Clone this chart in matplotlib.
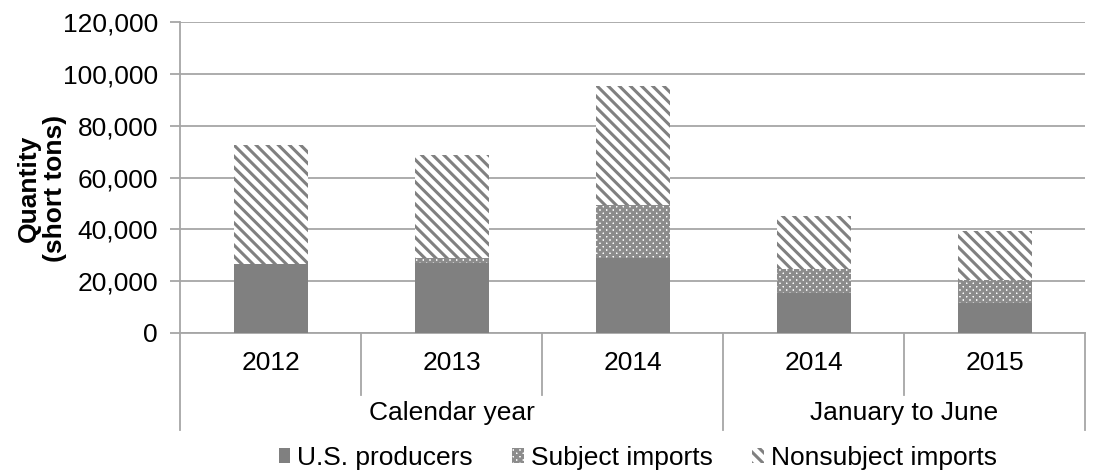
import numpy as np
import matplotlib.pyplot as plt
import matplotlib.transforms as mtransforms
from matplotlib.lines import Line2D

plt.rcParams['font.family'] = ['Liberation Sans', 'DejaVu Sans']
plt.rcParams['hatch.linewidth'] = 2.2

# data (short tons)
years = ['2012', '2013', '2014', '2014', '2015']
groups = ['Calendar year', 'January to June']
group_sizes = [3, 2]
us_producers = [26500, 27000, 29000, 15500, 11700]
subject_imports = [0, 1800, 20400, 9200, 8700]
nonsubject_imports = [46000, 39900, 46100, 20400, 19000]

grey = '#808080'
line_c = '#a6a6a6'
fs = 19
fig = plt.figure(figsize=(11.05, 4.74), dpi=100)
ax = fig.add_axes([0.163, 0.2975, 0.819, 0.656])

x = np.arange(len(years))
us = np.array(us_producers)
sub = np.array(subject_imports)
non = np.array(nonsubject_imports)
w = 0.41
ax.bar(x, us, w, color=grey, lw=0, label='U.S. producers', zorder=3)
ax.bar(x, sub, w, bottom=us, facecolor='white', edgecolor='#8c8c8c', hatch='xxxxx',
       lw=0, label='Subject imports', zorder=3)
ax.bar(x, non, w, bottom=us + sub, facecolor='white', edgecolor=grey, hatch='\\\\\\',
       lw=0, label='Nonsubject imports', zorder=3)

ax.set_xlim(-0.5, len(years) - 0.5)
ax.set_ylim(0, 120000)
ax.set_yticks(np.arange(0, 120001, 20000))
ax.yaxis.set_major_formatter(plt.FuncFormatter(lambda v, p: f'{int(v):,}'))
ax.tick_params(axis='y', length=7, width=1.3, color=line_c, labelsize=fs, pad=9)
ax.set_xticks([])
ax.grid(axis='y', color=line_c, lw=1.3, zorder=0)
for s in ['top', 'right']:
    ax.spines[s].set_visible(False)
for s in ['bottom', 'left']:
    ax.spines[s].set_color(line_c)
    ax.spines[s].set_linewidth(1.3)
ax.set_ylabel('Quantity\n(short tons)', fontsize=fs, fontweight='bold', linespacing=1.1)
ax.yaxis.set_label_coords(-0.125, 0.466)

# multi-level category axis
tr = mtransforms.blended_transform_factory(ax.transData, ax.transAxes)
for i, yr in enumerate(years):
    ax.text(i, -0.097, yr, transform=tr, ha='center', va='center', fontsize=fs)
bounds = np.cumsum([0] + group_sizes)
for b in range(1, len(years)):
    if b in bounds:
        continue
    ax.add_line(Line2D([b - 0.5, b - 0.5], [0, -0.2], transform=tr, color=line_c,
                       lw=1.3, clip_on=False))
for b in bounds:
    ax.add_line(Line2D([b - 0.5, b - 0.5], [0, -0.312], transform=tr, color=line_c,
                       lw=1.3, clip_on=False))
for g, lab in enumerate(groups):
    mid = (bounds[g] + bounds[g + 1] - 1) / 2
    ax.text(mid, -0.258, lab, transform=tr, ha='center', va='center', fontsize=fs)

fig.legend(loc='center', bbox_to_anchor=(0.577, 0.034), ncol=3, frameon=False,
           fontsize=fs, handlelength=0.45, handleheight=0.45, handletextpad=0.25,
           columnspacing=1.5, borderpad=0)

fig.savefig('out.png', dpi=100)
